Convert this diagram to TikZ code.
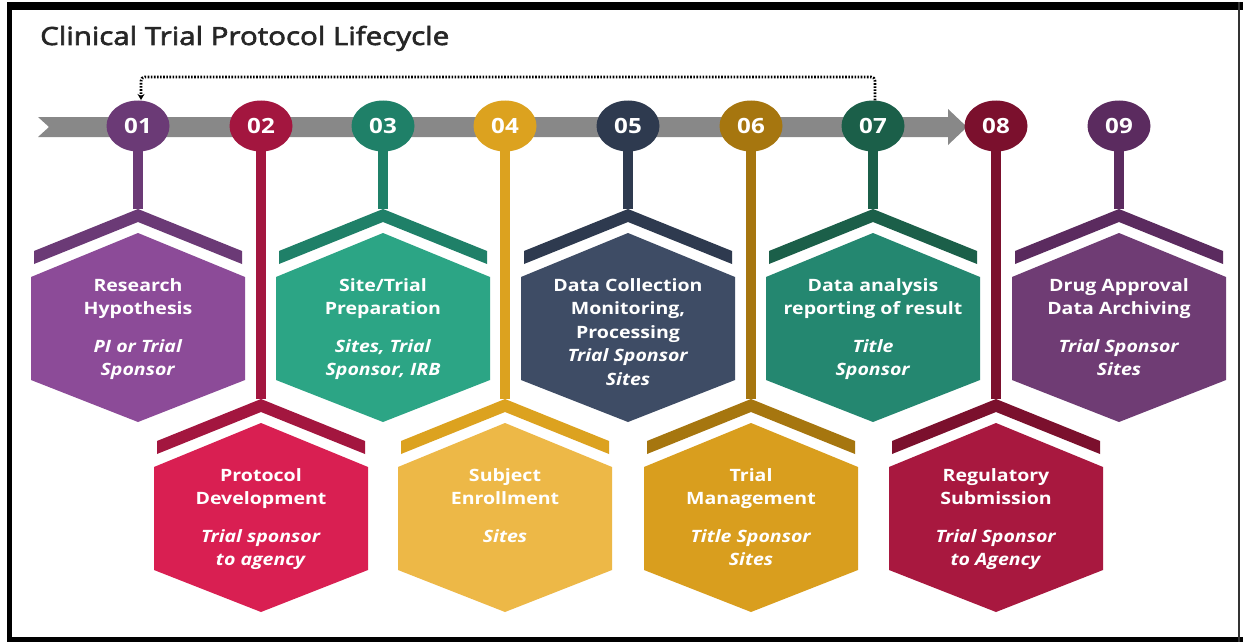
\documentclass[tikz,border=0pt]{standalone}
\usepackage{fontspec}
\setmainfont{Open Sans}
\newfontfamily\headfont{Open Sans}[FakeStretch=1.18,FakeBold=2.5]
\newfontfamily\widefont{Open Sans}[FakeStretch=1.15]
\usetikzlibrary{shapes.geometric,arrows.meta}
\pgfdeclarelayer{bg}
\pgfdeclarelayer{under}
\pgfsetlayers{bg,under,main}

% phase colours: dark (disc, stem, chevron) and light (hexagon)
\definecolor{dkA}{HTML}{6B3A76}\definecolor{ltA}{HTML}{8C4B98}
\definecolor{dkB}{HTML}{A3163F}\definecolor{ltB}{HTML}{D91F52}
\definecolor{dkC}{HTML}{1F8068}\definecolor{ltC}{HTML}{2CA585}
\definecolor{dkD}{HTML}{DCA21F}\definecolor{ltD}{HTML}{EDB847}
\definecolor{dkE}{HTML}{2E3A4F}\definecolor{ltE}{HTML}{3E4C65}
\definecolor{dkF}{HTML}{A6760F}\definecolor{ltF}{HTML}{D99E1E}
\definecolor{dkG}{HTML}{1B5F49}\definecolor{ltG}{HTML}{248770}
\definecolor{dkH}{HTML}{7B102D}\definecolor{ltH}{HTML}{A8183F}
\definecolor{dkI}{HTML}{5B2B5F}\definecolor{ltI}{HTML}{6F3C74}
\definecolor{bargrey}{HTML}{888888}
\definecolor{titleink}{HTML}{262626}

% #1 id, #2 centre x, #3 hexagon top y, #4 dark colour, #5 light colour, #6 label
\newcommand{\drawphase}[6]{%
  \node[numdisc,fill=#4] (c#1) at (#2,126) {#1};
  \coordinate (apex#1) at (#2,#3-24);
  \begin{pgfonlayer}{under}
    \draw[stemline,#4] (c#1.center) -- (apex#1);
  \end{pgfonlayer}
  \fill[#4] (#2-104,#3+18) -- (apex#1) -- (#2+104,#3+18) -- (#2+104,#3+31)
            -- (#2,#3-11) -- (#2-104,#3+31) -- cycle;
  \fill[#5] (#2,#3) -- (#2+107,#3+44) -- (#2+107,#3+147) -- (#2,#3+189)
            -- (#2-107,#3+147) -- (#2-107,#3+44) -- cycle;
  \node[hexlabel] (t#1) at (#2,#3+45) {#6};
}

\begin{document}
\begin{tikzpicture}[x=1pt,y=-1pt,
  numdisc/.style={ellipse,minimum width=63pt,minimum height=51pt,inner sep=0pt,
    text=white,font=\widefont\fontsize{21}{21}\selectfont\bfseries},
  stemline/.style={line width=10pt},
  hexlabel/.style={text=white,align=center,inner sep=0pt,anchor=north,
    font=\widefont\fontsize{17}{23.5}\selectfont\bfseries},
  dotline/.style={line width=2.8pt,dash pattern=on 1.6pt off 1.5pt,
    -{Stealth[length=6pt,width=7pt]}}
]
\useasboundingbox (0,0) rectangle (1243,642);
\begin{pgfonlayer}{bg}
\fill[white] (0,0) rectangle (1243,642);
% frame
\fill[black] (7,2) rectangle (1243,10);
\fill[black] (7,2) rectangle (12,642);
\fill[black] (7,637) rectangle (1243,642);
\fill[black!80] (1237.5,2) rectangle (1239.5,642);
\end{pgfonlayer}

% title
\node[anchor=base west,inner sep=0pt,text=titleink,
      font=\headfont\fontsize{25}{29}\selectfont] (title) at (40,45)
      {Clinical Trial Protocol Lifecycle};

% timeline arrow
\begin{pgfonlayer}{under}
\fill[bargrey] (38,117) -- (948,117) -- (948,109) -- (967,127) -- (948,145)
  -- (948,137) -- (38,137) -- (49,127) -- cycle;
\end{pgfonlayer}

\drawphase{01}{138}{233}{dkA}{ltA}{Research\\Hypothesis\\[14pt]\textit{PI or Trial}\\\textit{Sponsor}}
\drawphase{02}{261}{423}{dkB}{ltB}{Protocol\\Development\\[14pt]\textit{Trial sponsor}\\\textit{to agency}}
\drawphase{03}{383}{233}{dkC}{ltC}{Site/Trial\\Preparation\\[14pt]\textit{Sites, Trial}\\\textit{Sponsor, IRB}}
\drawphase{04}{505}{423}{dkD}{ltD}{Subject\\Enrollment\\[14pt]\textit{Sites}}
\drawphase{05}{628}{233}{dkE}{ltE}{Data Collection\\Monitoring,\\Processing\\\textit{Trial Sponsor}\\\textit{Sites}}
\drawphase{06}{751}{423}{dkF}{ltF}{Trial\\Management\\[14pt]\textit{Title Sponsor}\\\textit{Sites}}
\drawphase{07}{873}{233}{dkG}{ltG}{Data analysis\\reporting of result\\[14pt]\textit{Title}\\\textit{Sponsor}}
\drawphase{08}{996}{423}{dkH}{ltH}{Regulatory\\Submission\\[14pt]\textit{Trial Sponsor}\\\textit{to Agency}}
\drawphase{09}{1119}{233}{dkI}{ltI}{Drug Approval\\Data Archiving\\[14pt]\textit{Trial Sponsor}\\\textit{Sites}}

% feedback loop from 07 back to 01
\coordinate (loopR) at (875,77);
\coordinate (loopL) at (141,77);
\coordinate (loopEnd) at (141,100);
\draw[dotline,rounded corners=4pt] (c07.north -| loopR) -- (loopR) -- (loopL) -- (loopEnd);
\end{tikzpicture}
\end{document}
